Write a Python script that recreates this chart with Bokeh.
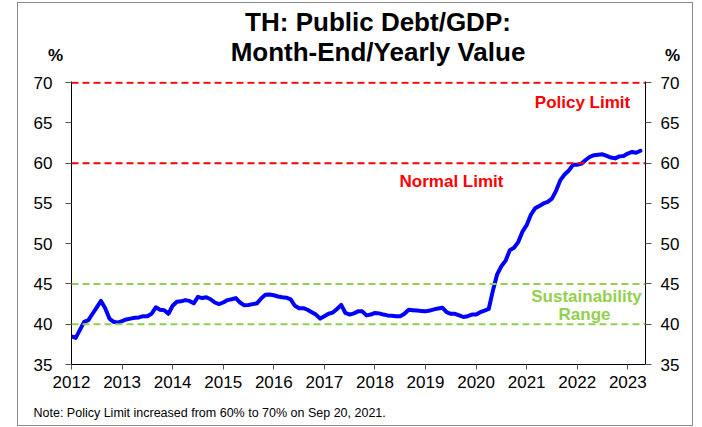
from bokeh.plotting import figure
from bokeh.models import Span, Label, LinearAxis, FixedTicker, Range1d
from bokeh.embed import file_html
from bokeh.resources import INLINE

# ---- data (monthly public debt / GDP, %) ----
debt_2012 = [38.5, 38.3, 39.3, 40.3, 40.5, 41.3, 42.1, 42.9, 42.0, 40.7, 40.3, 40.2]
debt_2013 = [40.4, 40.6, 40.7, 40.8, 40.85, 41.0, 41.0, 41.3, 42.1, 41.8, 41.75, 41.3]
debt_2014 = [42.3, 42.8, 42.85, 43.0, 42.9, 42.6, 43.4, 43.25, 43.35, 43.1, 42.7, 42.5]
debt_2015 = [42.7, 43.0, 43.1, 43.25, 42.7, 42.35, 42.4, 42.5, 42.6, 43.2, 43.65, 43.7]
debt_2016 = [43.6, 43.45, 43.35, 43.3, 43.1, 42.3, 42.0, 42.0, 41.8, 41.5, 41.2, 40.7]
debt_2017 = [41.0, 41.3, 41.45, 41.9, 42.4, 41.4, 41.2, 41.35, 41.6, 41.6, 41.1, 41.2]
debt_2018 = [41.4, 41.35, 41.2, 41.1, 41.05, 41.0, 41.0, 41.3, 41.8, 41.75, 41.7, 41.65]
debt_2019 = [41.6, 41.7, 41.85, 41.95, 42.05, 41.5, 41.3, 41.3, 41.1, 40.9, 41.0, 41.2]
debt_2020 = [41.2, 41.5, 41.7, 41.9, 44.2, 46.2, 47.2, 47.9, 49.2, 49.5, 50.2, 51.5]
debt_2021 = [52.3, 53.6, 54.4, 54.7, 55.0, 55.2, 55.6, 56.6, 57.9, 58.6, 59.1, 59.8]
debt_2022 = [59.8, 59.95, 60.4, 60.8, 61.0, 61.05, 61.1, 60.9, 60.7, 60.6, 60.85, 60.9]
debt_2023 = [61.2, 61.4, 61.3, 61.55]

start_year = 2012
year_ticks = list(range(2012, 2024))
y_ticks = [35, 40, 45, 50, 55, 60, 65, 70]

policy_limit = 70
normal_limit = 60
sustain_low = 40
sustain_high = 45

values = (debt_2012 + debt_2013 + debt_2014 + debt_2015 + debt_2016 + debt_2017 +
          debt_2018 + debt_2019 + debt_2020 + debt_2021 + debt_2022 + debt_2023)
months = [start_year + i / 12 for i in range(len(values))]

FONT = "Liberation Sans"
RED = "#FF0000"
GREEN = "#92D050"
BLUE = "#0000FF"
EDGE = "#8a8a8a"

W, H = 700, 426
FL, FR, FT, FB = 71, 645, 81, 364     # frame edges (canvas px)
BL, BR, BT, BB = FL, W - FR, FT, H - FB
XR = (2012, 2023.35)
YR = (35, 70.15)

p = figure(width=W, height=H, output_backend="svg", toolbar_location=None,
           x_range=Range1d(*XR), y_range=Range1d(*YR),
           min_border_left=BL, min_border_right=BR, min_border_top=BT, min_border_bottom=BB,
           background_fill_color="white", border_fill_color=None)


def bar(x, y, w, h):
    return f"linear-gradient({EDGE},{EDGE}) {x}px {y}px / {w}px {h}px no-repeat"


# thin grey box around the whole chart (drawn as css background lines)
p.styles = {"background": ", ".join([bar(17, 2, 676, 1), bar(17, 2, 1, 424),
                                     bar(692, 2, 1, 424), bar(17, 425, 676, 1)])}
p.outline_line_color = None
p.xgrid.grid_line_color = None
p.ygrid.grid_line_color = None


def style_axis(ax, tick_out, standoff):
    ax.axis_line_color = "black"
    ax.axis_line_width = 1
    ax.major_tick_line_color = "#555555"
    ax.major_tick_in = 0
    ax.major_tick_out = tick_out
    ax.minor_tick_line_color = None
    ax.major_label_text_font = FONT
    ax.major_label_text_font_size = "17px"
    ax.major_label_text_color = "black"
    ax.major_label_standoff = standoff


xa = p.xaxis[0]
xa.ticker = FixedTicker(ticks=year_ticks)
style_axis(xa, 5, 6)
ya = p.yaxis[0]
ya.ticker = FixedTicker(ticks=y_ticks)
style_axis(ya, 6, 13)
ra = LinearAxis(ticker=FixedTicker(ticks=y_ticks))
style_axis(ra, 6, 9)
p.add_layout(ra, "right")

for loc, col in [(policy_limit, RED), (normal_limit, RED), (sustain_high, GREEN), (sustain_low, GREEN)]:
    p.add_layout(Span(location=loc, dimension="width", line_color=col,
                      line_width=2, line_dash="7 4"))

p.line(months, values, line_color=BLUE, line_width=4, line_join="round", line_cap="round")


def X(px):
    return XR[0] + (px - FL) / (FR - FL) * (XR[1] - XR[0])


def Y(py):
    return YR[0] + (FB - py) / (FB - FT) * (YR[1] - YR[0])


def lab(text, px, py, size, color="black", bold=False, align="center", place="center"):
    lbl = Label(x=X(px), y=Y(py), text=text, text_font=FONT,
                text_font_size=size, text_color=color,
                text_font_style="bold" if bold else "normal",
                text_align=align, text_baseline="middle")
    p.add_layout(lbl, place)


lab("TH: Public Debt/GDP:", 377.5, 21, "26px", bold=True, place="above")
lab("Month-End/Yearly Value", 377.5, 51, "26px", bold=True, place="above")
lab("%", 55, 55, "17px", bold=True, place="left")
lab("%", 672, 55, "17px", bold=True, place="right")
lab("Note: Policy Limit increased from 60% to 70% on Sep 20, 2021.", 33, 412, "12.5px",
    align="left", place="below")
lab("Policy Limit", 582, 102, "17px", RED, True)
lab("Normal Limit", 451, 181, "17px", RED, True)
lab("Sustainability", 586, 296, "17px", GREEN, True)
lab("Range", 584, 314, "17px", GREEN, True)

open("out.html", "w").write(file_html(p, INLINE))
